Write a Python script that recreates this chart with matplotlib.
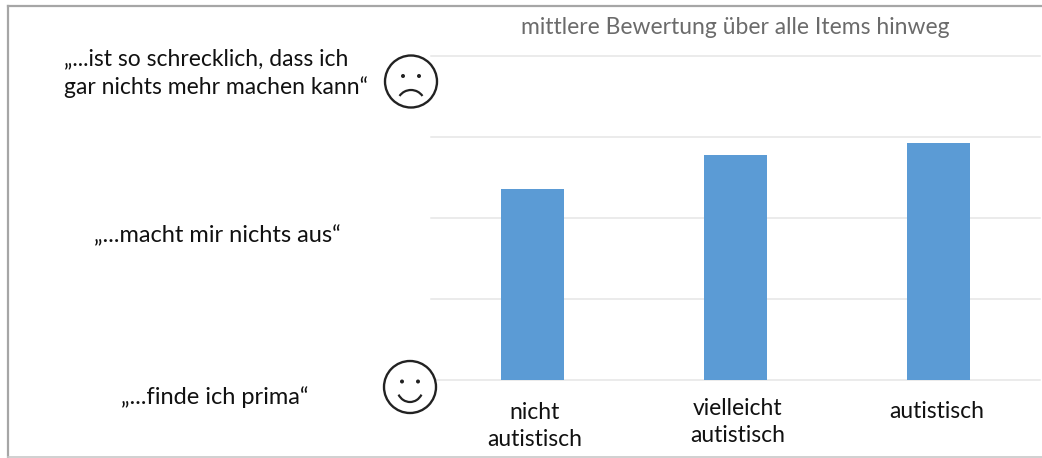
import numpy as np
import matplotlib
matplotlib.use('Agg')
import matplotlib.pyplot as plt
from matplotlib.patches import Circle, Arc

plt.rcParams['font.family'] = ['Lato', 'DejaVu Sans']

# dados
categorias = ['nicht\nautistisch', 'vielleicht\nautistisch', 'autistisch']
valores = [2.36, 2.78, 2.93]
niveis = [0, 1, 2, 3, 4]
titulo = 'mittlere Bewertung über alle Items hinweg'
rotulos = ['„...ist so schrecklich, dass ich\ngar nichts mehr machen kann“',
           '„...macht mir nichts aus“',
           '„...finde ich prima“']

L, A = 1042, 458
fig = plt.figure(figsize=(L / 100, A / 100), dpi=100)

# eixo principal
ax = fig.add_axes([431 / L, 1 - 380 / A, 609 / L, 324 / A])
x = np.arange(len(categorias))
ax.bar(x, valores, width=0.315, color='#5b9bd5', zorder=3)
ax.set_xlim(-0.5, 2.5)
ax.set_ylim(niveis[0], niveis[-1])
ax.set_yticks(niveis)
ax.set_yticklabels([])
ax.set_xticks([])
ax.tick_params(length=0)
for s in ax.spines.values():
    s.set_visible(False)
for yy in niveis:
    ax.axhline(yy, color='#e6e6e6', lw=1.1, zorder=1, clip_on=False)

# camada por cima em pixels (moldura, textos, carinhas)
bg = fig.add_axes([0, 0, 1, 1])
bg.patch.set_alpha(0)
bg.set_xlim(0, L)
bg.set_ylim(A, 0)
bg.axis('off')

# moldura
bg.plot([8, 8], [6, 458], color='#a6a6a6', lw=1.6)
bg.plot([8, 1042], [6, 6], color='#a6a6a6', lw=1.6)
bg.plot([8, 1042], [457, 457], color='#c8c8c8', lw=1.2)

# titulo
bg.text(735, 28, titulo, ha='center', va='center', fontsize=16.5, color='#6b6b6b')

# rotulos das categorias
posicoes_y = [426, 422, 411]
for xc, cat, yc in zip([535, 738, 937], categorias, posicoes_y):
    bg.text(xc, yc, cat, ha='center', va='center', fontsize=16.5, color='#111111', linespacing=1.4)

# rotulos da escala
bg.text(64, 73, rotulos[0], ha='left', va='center', fontsize=16.5, color='#111111', linespacing=1.4)
bg.text(217, 236, rotulos[1], ha='center', va='center', fontsize=17, color='#111111')
bg.text(215, 397, rotulos[2], ha='center', va='center', fontsize=17, color='#111111')

# carinhas
def carinha(cx, cy, triste):
    bg.add_patch(Circle((cx, cy), 26, fc='white', ec='#222222', lw=1.7, zorder=5))
    for dx in (-8, 8):
        bg.add_patch(Circle((cx + dx, cy - 5.5), 2.0, fc='#222222', ec='none', zorder=6))
    # eixo y invertido: os angulos do arco tambem ficam invertidos
    if triste:
        bg.add_patch(Arc((cx, cy + 22.5), 28, 28, theta1=215, theta2=325, ec='#222222', lw=1.6, zorder=6))
    else:
        bg.add_patch(Arc((cx, cy + 1), 26, 28, theta1=30, theta2=150, ec='#222222', lw=1.6, zorder=6))

carinha(411, 81.5, True)
carinha(410, 387, False)

fig.savefig('out.png', dpi=100)
